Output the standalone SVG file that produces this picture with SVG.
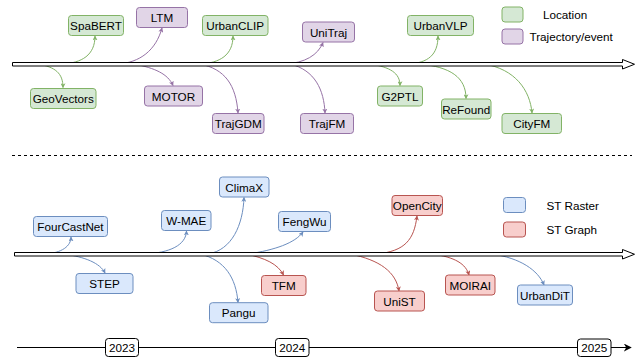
<svg xmlns="http://www.w3.org/2000/svg" width="638" height="360" viewBox="0 0 638 360">
<style>
  text { font-family: "Liberation Sans", Arial, sans-serif; font-size: 11.7px; fill: #000; text-anchor: middle; dominant-baseline: central; }
  .lg { text-anchor: start; }
  .box { stroke-width: 1; }
  .g { fill: #d5e8d4; stroke: #82b366; }
  .p { fill: #e1d5e7; stroke: #9673a6; }
  .b { fill: #dae8fc; stroke: #6c8ebf; }
  .r { fill: #f8cecc; stroke: #b85450; }
  .cg { fill: none; stroke: #82b366; stroke-width: 1; marker-end: url(#ag); }
  .cp { fill: none; stroke: #9673a6; stroke-width: 1; marker-end: url(#ap); }
  .cb { fill: none; stroke: #6c8ebf; stroke-width: 1; marker-end: url(#ab); }
  .cr { fill: none; stroke: #b85450; stroke-width: 1; marker-end: url(#ar); }
  .axis { fill: #fff; stroke: #000; stroke-width: 1; }
  .yr { fill: #fff; stroke: #000; stroke-width: 1; }
</style>
<defs>
  <marker id="ag" viewBox="0 0 8 8" refX="7" refY="4" markerWidth="5" markerHeight="5" markerUnits="userSpaceOnUse" orient="auto"><path d="M0,0 L8,4 L0,8 L2,4 z" fill="#82b366"/></marker>
  <marker id="ap" viewBox="0 0 8 8" refX="7" refY="4" markerWidth="5" markerHeight="5" markerUnits="userSpaceOnUse" orient="auto"><path d="M0,0 L8,4 L0,8 L2,4 z" fill="#9673a6"/></marker>
  <marker id="ab" viewBox="0 0 8 8" refX="7" refY="4" markerWidth="5" markerHeight="5" markerUnits="userSpaceOnUse" orient="auto"><path d="M0,0 L8,4 L0,8 L2,4 z" fill="#6c8ebf"/></marker>
  <marker id="ar" viewBox="0 0 8 8" refX="7" refY="4" markerWidth="5" markerHeight="5" markerUnits="userSpaceOnUse" orient="auto"><path d="M0,0 L8,4 L0,8 L2,4 z" fill="#b85450"/></marker>
  <marker id="ak" viewBox="0 0 10 10" refX="9" refY="5" markerWidth="8" markerHeight="8" markerUnits="userSpaceOnUse" orient="auto"><path d="M0,0 L10,5 L0,10 L3,5 z" fill="#000"/></marker>
</defs>

<g id="connectors">
  <path class="cg" d="M 62 64 C 82 63, 95 55, 95 36"/>
  <path class="cp" d="M 117 64 C 140 63, 156 50, 162 28"/>
  <path class="cg" d="M 200 64 C 220 63, 233 55, 233 36"/>
  <path class="cp" d="M 285 64 C 305 63, 318 55, 323 42.5"/>
  <path class="cg" d="M 408 64 C 428 63, 438 55, 438 36"/>
  <path class="cg" d="M 38 64 C 55 67, 63 73, 63 87.5"/>
  <path class="cp" d="M 134 64 C 155 68, 168 74, 173 85.5"/>
  <path class="cp" d="M 200 64 C 225 69, 236 85, 238 113"/>
  <path class="cp" d="M 290 64 C 315 70, 324 90, 325 113"/>
  <path class="cg" d="M 370 64 C 390 67, 400 73, 400 85.5"/>
  <path class="cg" d="M 420 64 C 450 67, 466 77, 466 98.5"/>
  <path class="cg" d="M 484 64 C 515 69, 530 90, 532 113"/>
  <path class="cb" d="M 45 254 C 62 253, 71 246, 71 237"/>
  <path class="cb" d="M 144 254 C 170 253, 186 245, 186.5 231"/>
  <path class="cb" d="M 208 254 C 232 250, 243 225, 244 197.5"/>
  <path class="cb" d="M 248 254 C 275 250, 295 243, 303 232"/>
  <path class="cr" d="M 377 254 C 405 251, 414 240, 417 216"/>
  <path class="cb" d="M 64 254 C 85 257, 100 263, 105 273"/>
  <path class="cb" d="M 200 254 C 225 260, 236 278, 238 302.5"/>
  <path class="cr" d="M 246 254 C 265 258, 278 264, 283.5 275"/>
  <path class="cr" d="M 350 254 C 380 260, 396 272, 399 291"/>
  <path class="cr" d="M 432 254 C 455 257, 466 264, 469 275"/>
  <path class="cb" d="M 492 254 C 520 258, 538 270, 544 285"/>
</g>

<g id="axis-top">
  <path class="axis" d="M 12.5 62.5 L 622.5 62.5 L 622.5 59.5 L 634.5 64.25 L 622.5 69 L 622.5 66 L 12.5 66 Z"/>
</g>
<g id="axis-bottom">
  <path class="axis" d="M 14.5 252.5 L 622.5 252.5 L 622.5 249.5 L 634.5 254.25 L 622.5 259 L 622.5 256 L 14.5 256 Z"/>
</g>
<g id="divider">
  <line x1="12" y1="155.5" x2="632" y2="155.5" stroke="#000" stroke-width="1" stroke-dasharray="3 3"/>
</g>

<g id="timeline">
  <line x1="17" y1="347.5" x2="631" y2="347.5" stroke="#000" stroke-width="1" marker-end="url(#ak)"/>
  <g id="y2023"><rect class="yr" x="105.5" y="338.5" width="33" height="18" rx="3"/><text x="122" y="347.5">2023</text></g>
  <g id="y2024"><rect class="yr" x="275.5" y="338.5" width="33.5" height="18" rx="3"/><text x="292.2" y="347.5">2024</text></g>
  <g id="y2025"><rect class="yr" x="577.5" y="339" width="33.5" height="17.5" rx="3"/><text x="594.2" y="347.7">2025</text></g>
</g>

<g id="SpaBERT"><rect class="box g" x="68.5" y="15.5" width="55" height="20" rx="3"/><text x="96" y="25.5">SpaBERT</text></g>
<g id="LTM"><rect class="box p" x="136.5" y="7.5" width="51" height="20" rx="3"/><text x="162" y="17.5">LTM</text></g>
<g id="UrbanCLIP"><rect class="box g" x="202.5" y="15.5" width="65.5" height="20" rx="3"/><text x="235.2" y="25.5">UrbanCLIP</text></g>
<g id="UniTraj"><rect class="box p" x="302.5" y="22" width="52" height="20" rx="3"/><text x="328.5" y="32">UniTraj</text></g>
<g id="UrbanVLP"><rect class="box g" x="407.5" y="15.5" width="66" height="20" rx="3"/><text x="440.5" y="25.5">UrbanVLP</text></g>
<g id="GeoVectors"><rect class="box g" x="30.5" y="88.5" width="65.5" height="20" rx="3"/><text x="63.2" y="98.5">GeoVectors</text></g>
<g id="MOTOR"><rect class="box p" x="144.5" y="86" width="58" height="20" rx="3"/><text x="173.5" y="96">MOTOR</text></g>
<g id="TrajGDM"><rect class="box p" x="212.5" y="113.5" width="51.5" height="20" rx="3"/><text x="238.2" y="123.5">TrajGDM</text></g>
<g id="TrajFM"><rect class="box p" x="300.5" y="113.5" width="53" height="20" rx="3"/><text x="327" y="123.5">TrajFM</text></g>
<g id="G2PTL"><rect class="box g" x="377.5" y="86" width="45" height="20" rx="3"/><text x="400" y="96">G2PTL</text></g>
<g id="ReFound"><rect class="box g" x="441.5" y="99" width="49.5" height="20" rx="3"/><text x="466.2" y="109">ReFound</text></g>
<g id="CityFM"><rect class="box g" x="502" y="113.5" width="59.5" height="20" rx="3"/><text x="531.8" y="123.5">CityFM</text></g>

<g id="legend-location"><rect class="box g" x="502" y="7" width="21" height="15" rx="3"/><text class="lg" x="543" y="14">Location</text></g>
<g id="legend-trajectory"><rect class="box p" x="502" y="29" width="21" height="15" rx="3"/><text class="lg" x="529.5" y="36">Trajectory/event</text></g>

<g id="FourCastNet"><rect class="box b" x="33.5" y="216.5" width="74" height="20" rx="3"/><text x="70.5" y="226.5">FourCastNet</text></g>
<g id="W-MAE"><rect class="box b" x="161.5" y="210.5" width="49.5" height="20" rx="3"/><text x="186.2" y="220.5">W-MAE</text></g>
<g id="ClimaX"><rect class="box b" x="219.5" y="177" width="49.5" height="20" rx="3"/><text x="244.2" y="187">ClimaX</text></g>
<g id="FengWu"><rect class="box b" x="278.5" y="211.5" width="52" height="20" rx="3"/><text x="304.5" y="221.5">FengWu</text></g>
<g id="OpenCity"><rect class="box r" x="392" y="195.5" width="50.5" height="20" rx="3"/><text x="417.2" y="205.5">OpenCity</text></g>
<g id="legend-raster"><rect class="box b" x="503.5" y="197.5" width="22" height="15" rx="3"/><text class="lg" x="546.5" y="205">ST Raster</text></g>
<g id="legend-graph"><rect class="box r" x="503.5" y="222" width="22" height="15" rx="3"/><text class="lg" x="546.5" y="229.5">ST Graph</text></g>

<g id="STEP"><rect class="box b" x="76" y="273.5" width="57" height="20" rx="3"/><text x="104.5" y="283.5">STEP</text></g>
<g id="Pangu"><rect class="box b" x="209.5" y="302.7" width="58.5" height="20" rx="3"/><text x="238.7" y="312.7">Pangu</text></g>
<g id="TFM"><rect class="box r" x="261.5" y="275.5" width="44.5" height="20" rx="3"/><text x="283.7" y="285.5">TFM</text></g>
<g id="UniST"><rect class="box r" x="374.5" y="291" width="50" height="20" rx="3"/><text x="399.5" y="301">UniST</text></g>
<g id="MOIRAI"><rect class="box r" x="445.5" y="275" width="49.5" height="20" rx="3"/><text x="470.2" y="285">MOIRAI</text></g>
<g id="UrbanDiT"><rect class="box b" x="517.5" y="285" width="55" height="20" rx="3"/><text x="545" y="295">UrbanDiT</text></g>
</svg>
